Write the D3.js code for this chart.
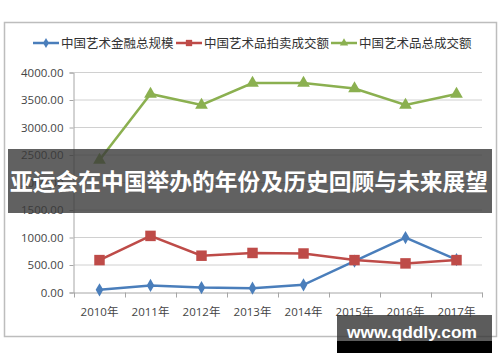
<!DOCTYPE html>
<html>
<head>
<meta charset="utf-8">
<script src="https://cdn.jsdelivr.net/npm/d3@7"></script>
<style>
  body { margin: 0; background: #fff; }
  svg { display: block; font-family: "Noto Sans CJK SC", "Noto Sans", sans-serif; }
</style>
</head>
<body>
<svg></svg>
<script>
let years = ['2010年', '2011年', '2012年', '2013年', '2014年', '2015年', '2016年', '2017年']
let finance = [40, 120, 80, 70, 130, 560, 990, 590]
let auction = [580, 1020, 660, 710, 700, 580, 520, 580]
let total = [2400, 3600, 3400, 3800, 3800, 3700, 3400, 3600]
let seriesNames = ['中国艺术金融总规模', '中国艺术品拍卖成交额', '中国艺术品总成交额']
let yTicks = [0, 500, 1000, 1500, 2000, 2500, 3000, 3500, 4000]

let width = 500
let height = 362

let svg = d3.select('svg').attr('width', width).attr('height', height)

let xScale = d3.scaleBand().domain(years).range([74, 482])
let yScale = d3.scaleLinear().domain([0, 4000]).range([292, 72])

// outer frame
svg.append('rect')
  .attr('x', 4.5).attr('y', 22.5).attr('width', 492).attr('height', 314)
  .attr('fill', '#fff').attr('stroke', '#bdbdbd').attr('stroke-width', 1.5)

// gridlines
svg.append('g')
  .selectAll('line')
  .data(yTicks.slice(1))
  .enter()
  .append('line')
  .attr('x1', 74).attr('x2', 482)
  .attr('y1', d => yScale(d) + 0.5).attr('y2', d => yScale(d) + 0.5)
  .attr('stroke', '#d0d0d0')

let yAxis = d3.axisLeft(yScale).tickValues(yTicks).tickFormat(d3.format('.2f')).tickSize(4).tickPadding(6)
let yg = svg.append('g').attr('transform', 'translate(73.5, 0.5)').call(yAxis)
yg.select('.domain').attr('stroke', '#a6a6a6')
yg.selectAll('.tick line').attr('stroke', '#a6a6a6')
yg.selectAll('text').attr('font-size', 11.5).attr('fill', '#444')
  .attr('font-family', '"Open Sans", "Noto Sans", sans-serif')

let xAxis = d3.axisBottom(xScale).tickSize(0).tickPadding(15)
let xg = svg.append('g').attr('transform', 'translate(0, 292.5)').call(xAxis)
xg.select('.domain').attr('stroke', '#a6a6a6')
xg.selectAll('text').attr('font-size', 11.5).attr('fill', '#444')
  .attr('font-family', '"Open Sans", "Noto Sans CJK SC", sans-serif')

// tick marks between categories
xg.selectAll('.sep')
  .data(d3.range(years.length + 1))
  .enter()
  .append('line')
  .attr('x1', i => 74 + i * xScale.step() + 0.5)
  .attr('x2', i => 74 + i * xScale.step() + 0.5)
  .attr('y1', 0).attr('y2', 5)
  .attr('stroke', '#a6a6a6')

let cx = d => xScale(d) + xScale.bandwidth() / 2
let line = d3.line().x((d, i) => cx(years[i])).y(d => yScale(d))

let series = [
  { name: seriesNames[0], values: finance, color: '#4a7ebb', marker: 'diamond' },
  { name: seriesNames[1], values: auction, color: '#be4b48', marker: 'square' },
  { name: seriesNames[2], values: total, color: '#8bb050', marker: 'triangle' }
]

let symbolFor = m => {
  if (m === 'diamond') return d3.symbol().type(d3.symbolDiamond).size(50)
  if (m === 'square') return d3.symbol().type(d3.symbolSquare).size(110)
  return d3.symbol().type(d3.symbolTriangle).size(70)
}

series.forEach(s => {
  svg.append('path')
    .datum(s.values)
    .attr('d', line)
    .attr('fill', 'none')
    .attr('stroke', s.color)
    .attr('stroke-width', 2.5)

  svg.append('g')
    .selectAll('path')
    .data(s.values)
    .enter()
    .append('path')
    .attr('d', symbolFor(s.marker))
    .attr('transform', (d, i) => 'translate(' + cx(years[i]) + ',' + yScale(d) + ')')
    .attr('fill', s.color)
})

// legend
let legendX = [33, 176, 331]
let legend = svg.append('g')
series.forEach((s, i) => {
  let g = legend.append('g').attr('transform', 'translate(' + legendX[i] + ', 43)')
  g.append('line').attr('x1', 0).attr('x2', 26).attr('stroke', s.color).attr('stroke-width', 2.5)
  g.append('path').attr('d', symbolFor(s.marker).size(s.marker === 'square' ? 40 : 30)())
    .attr('transform', 'translate(13, 0)').attr('fill', s.color)
  g.append('text').attr('x', 28).attr('y', 4.5)
    .attr('font-size', 12.5).attr('fill', '#333').text(s.name)
})

// overlay banner
svg.append('rect')
  .attr('x', 8).attr('y', 149).attr('width', 484).attr('height', 64)
  .attr('fill', '#3a3a3a').attr('opacity', 0.8)
svg.append('text')
  .attr('x', 10).attr('y', 190)
  .attr('textLength', 478).attr('lengthAdjust', 'spacingAndGlyphs')
  .attr('font-size', 23).attr('font-weight', 'bold').attr('fill', '#fff')
  .text('亚运会在中国举办的年份及历史回顾与未来展望')

// watermark
svg.append('rect')
  .attr('x', 337).attr('y', 315).attr('width', 155).attr('height', 26)
  .attr('fill', '#333').attr('opacity', 0.8)
svg.append('rect')
  .attr('x', 337).attr('y', 341).attr('width', 155).attr('height', 12)
  .attr('fill', '#000')
svg.append('text')
  .attr('x', 347).attr('y', 338)
  .attr('textLength', 130).attr('lengthAdjust', 'spacingAndGlyphs')
  .attr('font-size', 17).attr('font-weight', 'bold').attr('fill', '#fff')
  .attr('font-family', '"Liberation Sans", Arial, sans-serif')
  .text('www.qddly.com')
</script>
</body>
</html>
